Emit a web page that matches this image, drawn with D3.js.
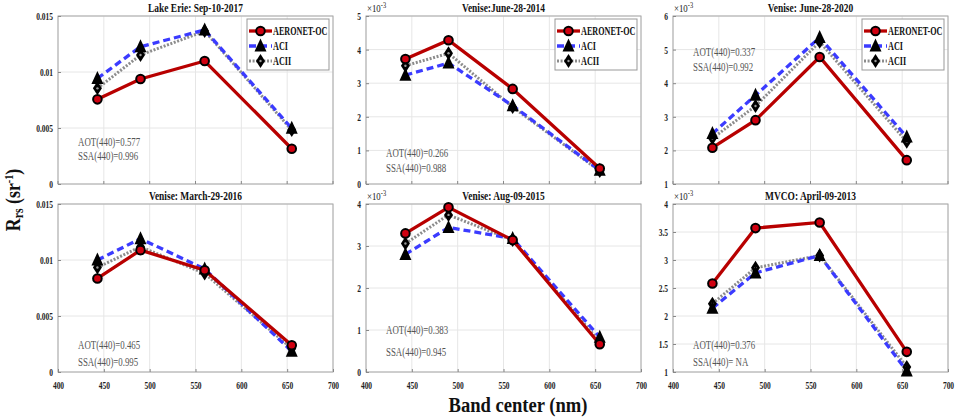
<!DOCTYPE html>
<html>
<head>
<meta charset="utf-8">
<script src="https://cdn.jsdelivr.net/npm/d3@7"></script>
<style>
  body { margin: 0; background: #fff; }
  text { font-family: "Liberation Serif", "Times New Roman", "DejaVu Serif", serif; }
</style>
</head>
<body>
<div id="chart"></div>
<script>
// band centres (nm)
var bands   = [443, 490, 560, 655];
var xTicks  = [400, 450, 500, 550, 600, 650, 700];

var titles  = ["Lake Erie: Sep-10-2017", "Venise:June-28-2014", "Venise: June-28-2020",
               "Venise: March-29-2016", "Venise: Aug-09-2015", "MVCO: April-09-2013"];

// Rrs values, one row per panel (panels 2,3,5,6 are in units of 1e-3)
var aeronetOC = [
  [0.00756, 0.00938, 0.01098, 0.00315],
  [3.72, 4.28, 2.83, 0.46],
  [2.08, 2.90, 4.78, 1.71],
  [0.00835, 0.01088, 0.00909, 0.00239],
  [3.30, 3.92, 3.14, 0.66],
  [2.58, 3.57, 3.67, 1.36]
];
var aci = [
  [0.00943, 0.01226, 0.01375, 0.00497],
  [3.24, 3.60, 2.33, 0.41],
  [2.50, 3.64, 5.36, 2.40],
  [0.01000, 0.01190, 0.00920, 0.00185],
  [2.80, 3.44, 3.18, 0.83],
  [2.14, 2.77, 3.08, 1.02]
];
var acii = [
  [0.00854, 0.01152, 0.01366, 0.00482],
  [3.52, 3.89, 2.29, 0.39],
  [2.36, 3.32, 5.23, 2.26],
  [0.00933, 0.01118, 0.00880, 0.00209],
  [3.06, 3.74, 3.14, 0.72],
  [2.22, 2.86, 3.08, 1.09]
];

var yTicks = [
  [0, 0.005, 0.01, 0.015],
  [0, 1, 2, 3, 4, 5],
  [1, 2, 3, 4, 5, 6],
  [0, 0.005, 0.01, 0.015],
  [0, 1, 2, 3, 4],
  [1, 1.5, 2, 2.5, 3, 3.5, 4]
];
var scaled = [false, true, true, false, true, true];   // x10^-3 panels
var aot    = ["0.577", "0.266", "0.337", "0.465", "0.383", "0.376"];
var ssa    = ["0.996", "0.988", "0.992", "0.995", "0.945", " NA"];
var seriesNames = ["AERONET-OC", "ACI", "ACII"];

var W = 955, H = 419;
var lefts = [58, 366, 673], tops = [16, 204];
var pw = 275, ph = 168;
var K = 0.68;   // the figure text is narrow (horizontally squeezed)

// baselines of the AOT / SSA lines
var notes = [[146, 160], [157, 172], [56, 71], [349, 366], [334, 356], [349, 366]];

var svg = d3.select("#chart").append("svg")
    .attr("width", W).attr("height", H);

var styles = [
  { color: "#b80000", dash: null,  width: 3.3 },
  { color: "#3b3bff", dash: "7,4", width: 3.3 },
  { color: "#8c8c8c", dash: "2,1.6", width: 3 }
];

// text squeezed horizontally around its anchor
var addText = (parent, x, y, str, size, opts) => {
  opts = opts || {};
  return parent.append("text")
    .attr("transform", `translate(${x},${y}) scale(${opts.k || K},1)`)
    .attr("text-anchor", opts.anchor || "start")
    .attr("font-size", size)
    .attr("font-weight", opts.bold ? "bold" : "normal")
    .attr("fill", opts.fill || "#111")
    .text(str);
};

var drawMarker = (g, kind, x, y) => {
  if (kind === 0) {
    g.append("circle").attr("cx", x).attr("cy", y).attr("r", 4.3)
     .attr("fill", "#d00010").attr("stroke", "#000").attr("stroke-width", 2);
  } else if (kind === 1) {
    g.append("path")
     .attr("d", `M${x},${y - 7.5} L${x + 6},${y + 5.5} L${x - 6},${y + 5.5} Z`)
     .attr("fill", "#000");
  } else {
    g.append("path")
     .attr("d", `M${x},${y - 7} L${x + 4.5},${y} L${x},${y + 7} L${x - 4.5},${y} Z`)
     .attr("fill", "#000");
    g.append("circle").attr("cx", x).attr("cy", y).attr("r", 1.2).attr("fill", "#999");
  }
};

for (var p = 0; p < 6; p++) {
  var col = p % 3, row = Math.floor(p / 3);
  var x0 = lefts[col], y0 = tops[row];
  var ticks = yTicks[p];

  var x = d3.scaleLinear().domain([400, 700]).range([x0, x0 + pw]);
  var y = d3.scaleLinear().domain([ticks[0], ticks[ticks.length - 1]]).range([y0 + ph, y0]);

  var g = svg.append("g");

  // grid
  g.selectAll(".gx").data(xTicks).enter().append("line")
    .attr("x1", d => x(d)).attr("x2", d => x(d))
    .attr("y1", y0).attr("y2", y0 + ph)
    .attr("stroke", "#e6e6e6").attr("stroke-width", 1);
  g.selectAll(".gy").data(ticks).enter().append("line")
    .attr("x1", x0).attr("x2", x0 + pw)
    .attr("y1", d => y(d)).attr("y2", d => y(d))
    .attr("stroke", "#e6e6e6").attr("stroke-width", 1);

  // frame
  g.append("rect").attr("x", x0).attr("y", y0).attr("width", pw).attr("height", ph)
    .attr("fill", "none").attr("stroke", "#a8a8a8").attr("stroke-width", 1);

  // axes
  var yAxis = d3.axisLeft(y).tickValues(ticks).tickSize(-3).tickFormat(d3.format(""));
  var ya = g.append("g").attr("transform", `translate(${x0},0)`).call(yAxis);
  ya.select(".domain").remove();
  ya.selectAll("line").attr("stroke", "#888");
  ya.selectAll("text").attr("x", -5 / K).attr("font-weight", "bold")
    .attr("font-size", 11).attr("fill", "#222").attr("transform", `scale(${K},1)`);

  if (row === 1) {
    var xAxis = d3.axisBottom(x).tickValues(xTicks).tickSize(-3).tickPadding(9);
    var xa = g.append("g").attr("transform", `translate(0,${y0 + ph})`).call(xAxis);
    xa.select(".domain").remove();
    xa.selectAll("line").attr("stroke", "#888");
    xa.selectAll("text").attr("font-weight", "bold")
      .attr("font-size", 11).attr("fill", "#222").attr("transform", `scale(${K},1)`);
  } else {
    g.selectAll(".tx").data(xTicks).enter().append("line")
      .attr("x1", d => x(d)).attr("x2", d => x(d))
      .attr("y1", y0 + ph).attr("y2", y0 + ph - 3).attr("stroke", "#888");
  }

  if (scaled[p]) {
    var ex = addText(g, x0 + 1, y0 - 4, "", 11, { fill: "#222", k: 0.8 });
    ex.append("tspan").text("\u00d710");
    ex.append("tspan").attr("dy", -4).attr("font-size", 8).text("-3");
  }

  // title
  addText(g, x0 + pw / 2, y0 - 4, titles[p], 13.5, { anchor: "middle", bold: true, k: 0.7 });

  // series
  var all = [aeronetOC[p], aci[p], acii[p]];
  var line = d3.line().x((d, i) => x(bands[i])).y(d => y(d));
  var order = [2, 1, 0];
  order.forEach(s => {
    g.append("path").datum(all[s]).attr("d", line)
      .attr("fill", "none").attr("stroke", styles[s].color)
      .attr("stroke-width", styles[s].width)
      .attr("stroke-dasharray", styles[s].dash);
  });
  order.forEach(s => {
    all[s].forEach((v, i) => drawMarker(g, s, x(bands[i]), y(v)));
  });

  // annotation
  addText(g, x0 + 20, notes[p][0], "AOT(440)=" + aot[p], 13, { fill: "#555" });
  addText(g, x0 + 20, notes[p][1], "SSA(440)=" + ssa[p], 13, { fill: "#555" });

  // legend on top row
  if (row === 0) {
    var lw = 82, lh = 51;
    var lx = x0 + pw - lw - 4, ly = y0 + 3;
    var lg = g.append("g");
    lg.append("rect").attr("x", lx).attr("y", ly).attr("width", lw).attr("height", lh)
      .attr("fill", "#fff").attr("stroke", "#999").attr("stroke-width", 1);
    seriesNames.forEach((name, s) => {
      var yy = ly + 12 + s * 15;
      lg.append("line").attr("x1", lx + 2).attr("x2", lx + 25).attr("y1", yy).attr("y2", yy)
        .attr("stroke", styles[s].color).attr("stroke-width", styles[s].width)
        .attr("stroke-dasharray", styles[s].dash);
      drawMarker(lg, s, lx + 13.5, yy);
      addText(lg, lx + 26, yy + 4, name, 12, { bold: true });
    });
  }
}

// shared axis labels
addText(svg, 518, 412, "Band center (nm)", 20, { anchor: "middle", bold: true, k: 0.93 });

var yl = svg.append("text")
  .attr("transform", "translate(20,200) rotate(-90) scale(0.85,1)")
  .attr("text-anchor", "middle").attr("font-weight", "bold").attr("font-size", 21)
  .attr("fill", "#111");
yl.append("tspan").text("R");
yl.append("tspan").attr("font-size", 14).attr("dy", 3).text("rs");
yl.append("tspan").attr("dy", -3).text(" (sr");
yl.append("tspan").attr("font-size", 12).attr("dy", -7).text("-1");
yl.append("tspan").attr("dy", 7).text(")");
</script>
</body>
</html>
